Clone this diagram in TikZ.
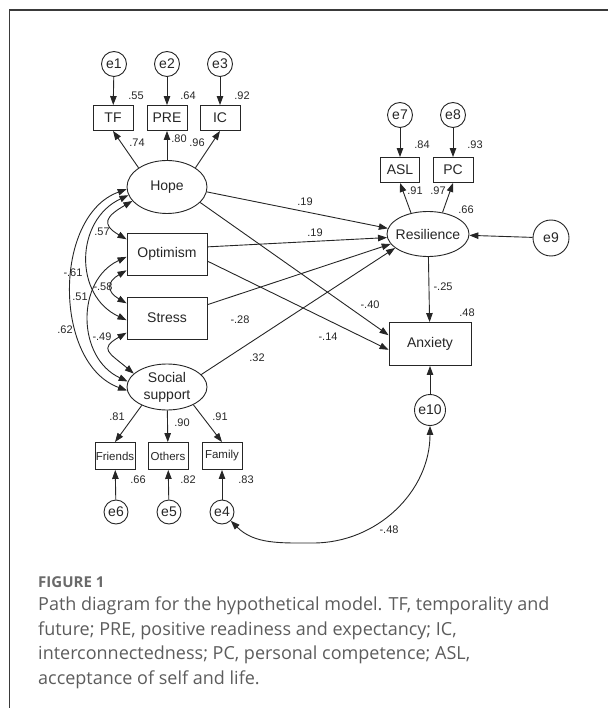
\documentclass[tikz,border=0pt]{standalone}
\usepackage{fontspec}
\setmainfont{Liberation Sans}
\newfontfamily\capfont{Open Sans}
\usetikzlibrary{shapes.geometric,arrows.meta}
\definecolor{capgray}{HTML}{5C5C5C}
\definecolor{labgray}{HTML}{6A6A6A}
\definecolor{framegray}{HTML}{3A3A3A}
\definecolor{inkgray}{HTML}{262626}

\begin{document}
\begin{tikzpicture}[x=1pt, y=1pt, >={Triangle[length=9pt,width=6.5pt]},
  latent/.style={draw=inkgray, ellipse, inner sep=0pt, line width=0.9pt, text=inkgray, font=\fontsize{14}{17}\selectfont},
  obs/.style={draw=inkgray, rectangle, minimum width=40pt, minimum height=25pt, inner sep=0pt, line width=0.9pt, text=inkgray, font=\fontsize{14}{17}\selectfont},
  err/.style={draw=inkgray, circle, minimum size=25pt, inner sep=0pt, line width=0.9pt, text=inkgray, font=\fontsize{14}{17}\selectfont},
  coef/.style={inner sep=0pt, text=inkgray, font=\fontsize{11}{12}\selectfont},
  reg/.style={->, draw=inkgray, line width=0.9pt},
  cov/.style={<->, draw=inkgray, line width=0.9pt}]
  \useasboundingbox (0,0) rectangle (608,-708);

  % frame
  \draw[framegray, line width=1.5pt] (9.5,-708) -- (9.5,-10) -- (608,-10);

  % hope and its indicators
  \node[err] (e1) at (114,-64) {e1};
  \node[err] (e2) at (167,-64) {e2};
  \node[err] (e3) at (220,-64) {e3};
  \node[obs] (tf) at (113,-118) {TF};
  \node[obs] (pre) at (167,-118) {PRE};
  \node[obs] (ic) at (220,-118) {IC};
  \node[latent, minimum width=80pt, minimum height=53pt] (hope) at (167,-187) {Hope};

  \node[obs, minimum width=80pt, minimum height=42pt] (opt) at (167,-254) {Optimism};
  \node[obs, minimum width=80pt, minimum height=42pt] (stress) at (167,-318) {Stress};

  % social support and its indicators
  \node[latent, minimum width=80pt, minimum height=46pt, align=center] (soc) at (167,-387) {Social\\support};
  \node[obs, minimum height=27pt, font=\fontsize{11.5}{13}\selectfont] (friends) at (115,-456) {Friends};
  \node[obs, minimum height=27pt, font=\fontsize{11.5}{13}\selectfont] (others) at (168,-456) {Others};
  \node[obs, minimum height=27pt, font=\fontsize{11.5}{13}\selectfont] (family) at (222,-456) {Family};
  \node[err, minimum size=24pt] (e6) at (116,-512) {e6};
  \node[err, minimum size=24pt] (e5) at (169,-512) {e5};
  \node[err, minimum size=24pt] (e4) at (222,-512) {e4};

  % resilience and anxiety
  \node[err] (e7) at (400,-115) {e7};
  \node[err] (e8) at (453,-115) {e8};
  \node[obs, minimum width=39pt] (asl) at (400,-170) {ASL};
  \node[obs] (pc) at (453,-170) {PC};
  \node[latent, minimum width=82pt, minimum height=45pt, inner xsep=-10pt] (res) at (428,-234) {Resilience};
  \node[err, minimum size=36pt] (e9) at (551,-238) {e9};
  \node[obs, minimum width=82pt, minimum height=43pt] (anx) at (430,-344) {Anxiety};
  \node[err, minimum size=31pt] (e10) at (430,-410) {e10};
  \coordinate (low) at (313,-543);

  % measurement paths
  \draw[reg] (e1) -- (tf);
  \draw[reg] (e2) -- (pre);
  \draw[reg] (e3) -- (ic);
  \draw[reg] (hope.146) -- (tf.south);
  \draw[reg] (hope) -- (pre);
  \draw[reg] (hope.34) -- (ic.south);
  \draw[reg] (e7) -- (asl);
  \draw[reg] (e8) -- (pc);
  \draw[reg] (res.129) -- (asl.south);
  \draw[reg] (res.56) -- (pc.south);
  \draw[reg] (soc.216) -- (friends.north);
  \draw[reg] (soc) -- (others);
  \draw[reg] (soc.326) -- (family.north);
  \draw[reg] (e6) -- (friends);
  \draw[reg] (e5) -- (others);
  \draw[reg] (e4) -- (family);

  % structural paths
  \draw[reg] (e9) -- (res);
  \draw[reg] (hope.353) -- (res.172);
  \draw[reg] (opt.10) -- (res.185);
  \draw[reg] (stress) -- (res.195);
  \draw[reg] (soc.20) -- (res.203);
  \draw[reg] (hope.335) -- (anx.168);
  \draw[reg] (opt.350) -- (anx.188);
  \draw[reg] (res) -- (anx);
  \draw[reg] (e10) -- (anx);

  % covariances
  \draw[cov] (hope.202) to[out=210, in=150, looseness=2] (opt.160);
  \draw[cov] (opt.202) to[out=210, in=150, looseness=1.8] (stress.160);
  \draw[cov] (stress.200) to[out=210, in=140, looseness=2] (soc.158);
  \draw[cov] (hope.192) to[out=205, in=155, looseness=1.2] (stress.183);
  \draw[cov] (opt.184) to[out=205, in=155, looseness=1.15] (soc.172);
  \draw[cov] (hope.183) to[out=200, in=160] (soc.185);
  \draw[cov] (e10) to[out=270, in=0] (low) to[out=180, in=-45] (e4);

  % estimates
  \node[coef] (k-e1) at (136,-96) {.55};
  \node[coef] (k-e2) at (188,-96) {.64};
  \node[coef] (k-e3) at (242,-96) {.92};
  \node[coef] (k-tf) at (137,-143) {.74};
  \node[coef] (k-pre) at (179,-139) {.80};
  \node[coef] (k-ic) at (197,-143) {.96};
  \node[coef] (k-e7) at (422,-145) {.84};
  \node[coef] (k-e8) at (475,-145) {.93};
  \node[coef] (k-asl) at (415,-191) {.91};
  \node[coef] (k-pc) at (438,-191) {.97};
  \node[coef] (k-res) at (466,-210) {.66};
  \node[coef] (k-hr) at (305,-202) {.19};
  \node[coef] (k-or) at (315,-233) {.19};
  \node[coef] (k-sr) at (240,-320) {-.28};
  \node[coef] (k-ssr) at (257,-358) {.32};
  \node[coef] (k-ha) at (370,-305) {-.40};
  \node[coef] (k-oa) at (328,-337) {-.14};
  \node[coef] (k-ra) at (443,-287) {-.25};
  \node[coef] (k-anx) at (467,-313) {.48};
  \node[coef] (k-ho) at (102,-232) {.57};
  \node[coef] (k-hs) at (73,-273) {-.61};
  \node[coef] (k-os) at (103,-287) {-.58};
  \node[coef] (k-oss) at (80,-297) {.51};
  \node[coef] (k-hss) at (65,-330) {.62};
  \node[coef] (k-sss) at (102,-337) {-.49};
  \node[coef] (k-fr) at (117,-417) {.81};
  \node[coef] (k-ot) at (182,-423) {.90};
  \node[coef] (k-fa) at (220,-417) {.91};
  \node[coef] (k-e6) at (138,-480) {.66};
  \node[coef] (k-e5) at (188,-480) {.82};
  \node[coef] (k-e4) at (246,-480) {.83};
  \node[coef] (k-e10) at (389,-530) {-.48};

  % caption
  \node[anchor=west, inner sep=0pt, text=labgray, font=\capfont\bfseries\fontsize{15}{17}\selectfont] (figlabel) at (38,-582) {FIGURE 1};
  \node[anchor=north west, align=left, inner sep=0pt, text=capgray, font=\capfont\fontsize{18}{24.5}\selectfont] (caption) at (38,-597)
    {Path diagram for the hypothetical model. TF, temporality and\\
     future; PRE, positive readiness and expectancy; IC,\\
     interconnectedness; PC, personal competence; ASL,\\
     acceptance of self and life.};
\end{tikzpicture}
\end{document}
